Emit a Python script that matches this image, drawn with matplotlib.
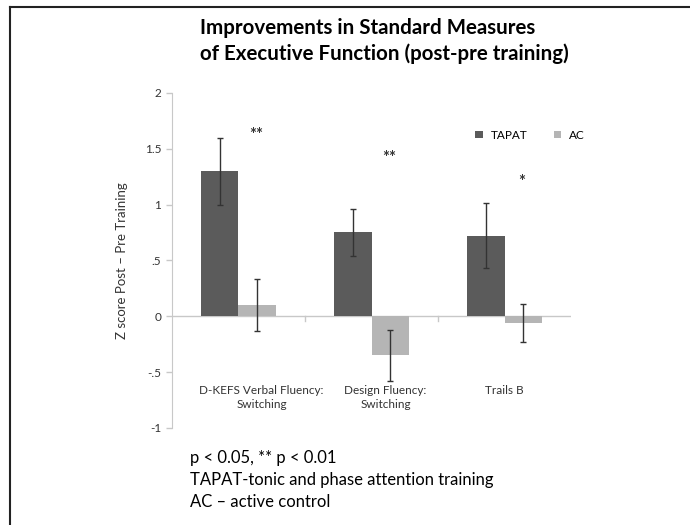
import matplotlib
matplotlib.use("Agg")
import matplotlib.pyplot as plt
import numpy as np
from matplotlib.lines import Line2D

plt.rcParams['font.family'] = ['Lato', 'DejaVu Sans']

categories = ["D-KEFS Verbal Fluency:\nSwitching", "Design Fluency:\nSwitching", "Trails B"]
tapat = [1.30, 0.75, 0.72]
tapat_err = [0.30, 0.21, 0.29]
ac = [0.10, -0.35, -0.06]
ac_err = [0.23, 0.23, 0.17]
stars = ["**", "**", "*"]
star_y = [1.62, 1.42, 1.20]
label_x = [0.175, 1.105, 2.0]

fig = plt.figure(figsize=(6.9, 5.25), dpi=100)
ax = fig.add_axes([0.249, 0.185, 0.579, 0.638])

x = np.arange(len(categories))
w = 0.28
dark = "#5b5b5b"
light = "#b5b5b5"
ax.bar(x - w / 2, tapat, w, color=dark, label="TAPAT", zorder=2)
ax.bar(x + w / 2, ac, w, color=light, label="AC", zorder=2)
ax.errorbar(x - w / 2, tapat, yerr=tapat_err, fmt="none", ecolor="#333333",
            elinewidth=1, capsize=2, capthick=1, zorder=3)
ax.errorbar(x + w / 2, ac, yerr=ac_err, fmt="none", ecolor="#333333",
            elinewidth=1, capsize=2, capthick=1, zorder=3)

ax.axhline(0, color="#c8c8c8", lw=1, zorder=1)
for b in [0.5, 1.5]:
    ax.plot([b, b], [0, -0.04], color="#c8c8c8", lw=1, zorder=1)

for i, s in enumerate(stars):
    ax.text(i + w / 2 - 0.01, star_y[i], s, ha="center", va="center", fontsize=12,
            fontweight="bold", color="#333333")

for i, c in enumerate(categories):
    ax.text(label_x[i], -0.62, c, ha="center", va="top", fontsize=8.5,
            color="#333333", linespacing=1.25)

ax.set_xlim(-0.5, 2.5)
ax.set_ylim(-1, 2)
ax.set_xticks([])
ax.set_yticks([-1, -0.5, 0, 0.5, 1, 1.5, 2])
ax.set_yticklabels(["-1", "-.5", "0", ".5", "1", "1.5", "2"])
ax.tick_params(axis="y", labelsize=8.5, colors="#c8c8c8", labelcolor="#333333",
               length=4, width=1)
for side in ["top", "right", "bottom"]:
    ax.spines[side].set_visible(False)
ax.spines["left"].set_color("#c8c8c8")
ax.set_ylabel("Z score Post \u2013 Pre Training", fontsize=9.5, color="#333333",
              labelpad=12)

ax.legend(loc="upper left", bbox_to_anchor=(0.76, 0.89), ncol=2, frameon=False,
          fontsize=8.5, handlelength=0.6, handleheight=0.6, columnspacing=2.2,
          handletextpad=0.7, borderaxespad=0, borderpad=0)

fig.text(200 / 690, 1 - 41 / 525, "Improvements in Standard Measures\nof Executive Function (post-pre training)",
         ha="left", va="center", fontsize=14.8, fontweight="bold", linespacing=1.3)

fig.text(190 / 690, 1 - 480 / 525,
         "p < 0.05, ** p < 0.01\nTAPAT-tonic and phase attention training\nAC \u2013 active control",
         ha="left", va="center", fontsize=12, linespacing=1.45)

fig.add_artist(Line2D([10 / 690, 10 / 690], [0, 1 - 7 / 525], color="#222222", lw=1.5))
fig.add_artist(Line2D([10 / 690, 1], [1 - 7 / 525, 1 - 7 / 525], color="#222222", lw=1.5))

fig.savefig("out.png", dpi=100)
